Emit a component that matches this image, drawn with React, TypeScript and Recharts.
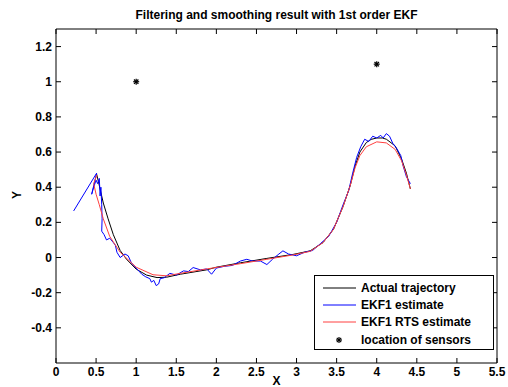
import { ComposedChart, Line, Scatter, XAxis, YAxis, Legend } from "recharts";

const xTicks = [0, 0.5, 1, 1.5, 2, 2.5, 3, 3.5, 4, 4.5, 5, 5.5];
const yTicks = [-0.4, -0.2, 0, 0.2, 0.4, 0.6, 0.8, 1, 1.2];

// [x, y] pairs
const actual = [
  [0.507, 0.474], [0.53, 0.43], [0.56, 0.37], [0.59, 0.31], [0.65, 0.22],
  [0.715, 0.13], [0.8, 0.04], [0.88, -0.01], [1.0, -0.066], [1.13, -0.1],
  [1.26, -0.114], [1.38, -0.112], [1.55, -0.095], [1.88, -0.07], [2.0, -0.055],
  [2.3, -0.03], [2.63, -0.005], [2.96, 0.018], [3.17, 0.038], [3.33, 0.085],
  [3.46, 0.16], [3.58, 0.29], [3.67, 0.41], [3.73, 0.52], [3.79, 0.6],
  [3.87, 0.654], [3.93, 0.672], [4.0, 0.68], [4.07, 0.68], [4.12, 0.673],
  [4.23, 0.635], [4.31, 0.56], [4.37, 0.48], [4.42, 0.39],
];

const ekf = [
  [0.22, 0.265], [0.507, 0.48], [0.445, 0.36], [0.47, 0.4], [0.5, 0.44],
  [0.52, 0.42], [0.54, 0.45], [0.55, 0.35], [0.56, 0.4], [0.57, 0.3],
  [0.575, 0.22], [0.57, 0.15], [0.6, 0.13], [0.63, 0.1], [0.67, 0.11],
  [0.715, 0.085], [0.74, 0.07], [0.76, 0.03], [0.8, 0.0], [0.86, 0.02],
  [0.9, 0.01], [0.94, -0.03], [1.0, -0.06], [1.07, -0.095], [1.12, -0.11],
  [1.17, -0.12], [1.19, -0.14], [1.22, -0.13], [1.25, -0.16], [1.28, -0.15],
  [1.3, -0.12], [1.35, -0.115], [1.42, -0.09], [1.5, -0.1], [1.59, -0.076],
  [1.65, -0.08], [1.71, -0.057], [1.8, -0.07], [1.88, -0.065], [1.94, -0.095],
  [2.0, -0.06], [2.1, -0.05], [2.2, -0.045], [2.3, -0.02], [2.38, -0.01],
  [2.45, -0.02], [2.55, -0.02], [2.63, -0.04], [2.7, -0.01], [2.78, 0.02],
  [2.83, 0.038], [2.9, 0.02], [3.0, 0.01], [3.1, 0.03], [3.2, 0.04],
  [3.3, 0.08], [3.4, 0.12], [3.5, 0.2], [3.58, 0.3], [3.65, 0.38],
  [3.7, 0.48], [3.75, 0.57], [3.8, 0.63], [3.85, 0.673], [3.9, 0.66],
  [3.95, 0.69], [4.0, 0.68], [4.05, 0.695], [4.08, 0.68], [4.12, 0.705],
  [4.16, 0.69], [4.2, 0.65], [4.25, 0.62], [4.3, 0.58], [4.33, 0.52],
  [4.37, 0.46], [4.42, 0.42],
];

const rts = [
  [0.51, 0.47], [0.47, 0.42], [0.5, 0.36], [0.54, 0.3], [0.59, 0.22],
  [0.67, 0.12], [0.8, 0.03], [1.0, -0.055], [1.21, -0.098], [1.38, -0.104],
  [1.55, -0.09], [1.88, -0.065], [2.3, -0.035], [2.63, -0.01], [2.96, 0.015],
  [3.17, 0.035], [3.33, 0.085], [3.46, 0.16], [3.58, 0.29], [3.67, 0.41],
  [3.73, 0.51], [3.79, 0.58], [3.87, 0.63], [4.0, 0.658], [4.12, 0.652],
  [4.23, 0.615], [4.31, 0.55], [4.37, 0.47], [4.42, 0.39],
];

const sensors = [
  [1, 1],
  [4, 1.1],
];

const legendItems = [
  { label: "Actual trajectory", color: "#000000", kind: "line" },
  { label: "EKF1 estimate", color: "#0000ff", kind: "line" },
  { label: "EKF1 RTS estimate", color: "#ff4040", kind: "line" },
  { label: "location of sensors", color: "#000000", kind: "star" },
];

const toPts = (arr: number[][]) => arr.map(([x, y]) => ({ x, y }));

const font = "'Liberation Sans', Arial, sans-serif";

const BottomTick = ({ x, y, payload }: any) => (
  <g>
    <line x1={x} x2={x} y1={y} y2={y - 5} stroke="#000" />
    <text x={x} y={y + 13} textAnchor="middle" fontSize={12} fontWeight="bold" fontFamily={font} fill="#000">
      {payload.value}
    </text>
  </g>
);

const LeftTick = ({ x, y, payload }: any) => (
  <g>
    <line x1={x} x2={x + 5} y1={y} y2={y} stroke="#000" />
    <text x={x - 4} y={y + 4} textAnchor="end" fontSize={12} fontWeight="bold" fontFamily={font} fill="#000">
      {payload.value}
    </text>
  </g>
);

const TopTick = ({ x, y }: any) => <line x1={x} x2={x} y1={y} y2={y + 5} stroke="#000" />;
const RightTick = ({ x, y }: any) => <line x1={x} x2={x - 5} y1={y} y2={y} stroke="#000" />;

const Star = ({ cx, cy }: any) => (
  <g stroke="#000" strokeWidth={1.2}>
    <line x1={cx - 3} x2={cx + 3} y1={cy} y2={cy} />
    <line x1={cx} x2={cx} y1={cy - 3} y2={cy + 3} />
    <line x1={cx - 2.2} x2={cx + 2.2} y1={cy - 2.2} y2={cy + 2.2} />
    <line x1={cx - 2.2} x2={cx + 2.2} y1={cy + 2.2} y2={cy - 2.2} />
  </g>
);

const LegendBox = () => (
  <div
    style={{
      border: "1px solid #000",
      background: "#fff",
      width: 178,
      height: 70,
      boxSizing: "content-box",
      fontFamily: font,
      fontSize: 12,
      fontWeight: "bold",
      paddingTop: 3,
    }}
  >
    {legendItems.map((it) => (
      <div key={it.label} style={{ display: "flex", alignItems: "center", height: 17.3 }}>
        <svg width={46} height={10}>
          {it.kind === "line" ? (
            <line x1={8} x2={41} y1={5} y2={5} stroke={it.color} />
          ) : (
            <Star cx={24} cy={5} />
          )}
        </svg>
        <span>{it.label}</span>
      </div>
    ))}
  </div>
);

export default function App() {
  return (
    <div style={{ position: "absolute", left: 0, top: 0, width: 508, height: 387, background: "#fff" }}>
      <ComposedChart width={508} height={387} margin={{ top: 28, right: 10, bottom: 4, left: 16 }}>
        <XAxis
          dataKey="x"
          type="number"
          domain={[0, 5.5]}
          ticks={xTicks}
          interval={0}
          height={20}
          tickSize={0}
          tickMargin={0}
          tick={<BottomTick />}
          axisLine={{ stroke: "#000" }}
          allowDataOverflow
        />
        <XAxis
          xAxisId="top"
          orientation="top"
          dataKey="x"
          type="number"
          domain={[0, 5.5]}
          ticks={xTicks}
          interval={0}
          height={1}
          tickSize={0}
          tickMargin={0}
          tick={<TopTick />}
          axisLine={{ stroke: "#000" }}
          allowDataOverflow
        />
        <YAxis
          type="number"
          domain={[-0.6, 1.3]}
          ticks={yTicks}
          interval={0}
          width={40}
          tickSize={0}
          tickMargin={0}
          tick={<LeftTick />}
          axisLine={{ stroke: "#000" }}
          allowDataOverflow
        />
        <YAxis
          yAxisId="right"
          orientation="right"
          type="number"
          domain={[-0.6, 1.3]}
          ticks={yTicks}
          interval={0}
          width={1}
          tickSize={0}
          tickMargin={0}
          tick={<RightTick />}
          axisLine={{ stroke: "#000" }}
          allowDataOverflow
        />
        <Line data={toPts(actual)} dataKey="y" type="linear" stroke="#000000" strokeWidth={1} dot={false} isAnimationActive={false} />
        <Line data={toPts(ekf)} dataKey="y" type="linear" stroke="#0000ff" strokeWidth={1} dot={false} isAnimationActive={false} />
        <Line data={toPts(rts)} dataKey="y" type="linear" stroke="#ff4040" strokeWidth={1} dot={false} isAnimationActive={false} />
        <Scatter data={toPts(sensors)} dataKey="y" shape={<Star />} isAnimationActive={false} />
        <Line
          xAxisId="top"
          yAxisId="right"
          data={toPts(sensors)}
          dataKey="y"
          stroke="none"
          dot={false}
          legendType="none"
          isAnimationActive={false}
        />
        <Legend
          layout="horizontal"
          verticalAlign="middle"
          align="center"
          content={<LegendBox />}
          wrapperStyle={{ left: 314, top: 275, width: 180, height: 75 }}
        />
      </ComposedChart>
      <div
        style={{
          position: "absolute",
          left: 56,
          width: 441,
          top: 8,
          textAlign: "center",
          fontFamily: font,
          fontSize: 12,
          fontWeight: "bold",
          lineHeight: "14px",
        }}
      >
        Filtering and smoothing result with 1st order EKF
      </div>
      <div
        style={{
          position: "absolute",
          left: 56,
          width: 441,
          top: 374,
          textAlign: "center",
          fontFamily: font,
          fontSize: 12,
          fontWeight: "bold",
          lineHeight: "14px",
        }}
      >
        X
      </div>
      <div
        style={{
          position: "absolute",
          left: 10,
          top: 188,
          width: 14,
          height: 14,
          textAlign: "center",
          transform: "rotate(-90deg)",
          fontFamily: font,
          fontSize: 12,
          fontWeight: "bold",
          lineHeight: "14px",
        }}
      >
        Y
      </div>
    </div>
  );
}
